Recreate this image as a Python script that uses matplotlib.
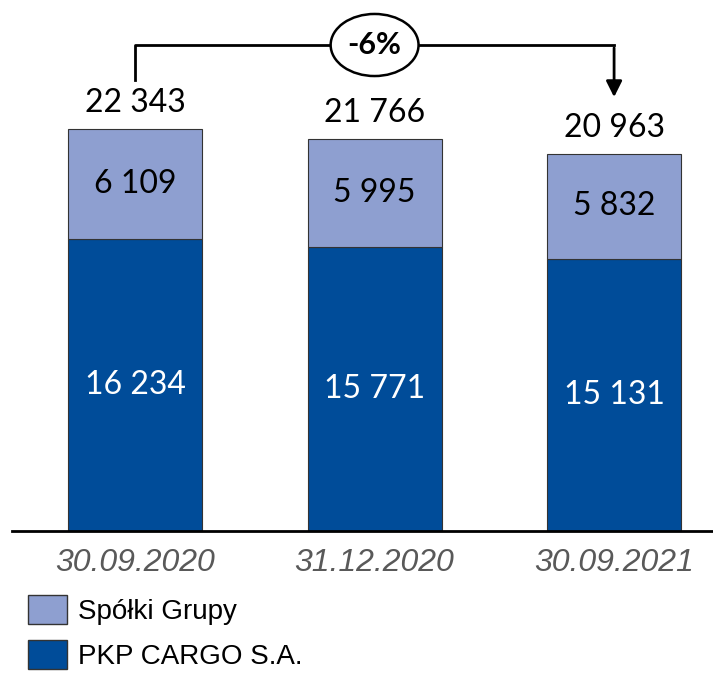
import matplotlib.pyplot as plt
from matplotlib.patches import Ellipse, Patch

# data
dates = ['30.09.2020', '31.12.2020', '30.09.2021']
pkp_cargo = [16234, 15771, 15131]
spolki = [6109, 5995, 5832]
totals = [22343, 21766, 20963]
change_label = '-6%'

c_light = '#8E9FD0'
c_dark = '#004C99'

def fmt(v):
    return f'{v:,}'.replace(',', ' ')

fig = plt.figure(figsize=(7.13, 6.74), dpi=100)
ax = fig.add_axes([12 / 713, 143 / 674, 1 - 12 / 713, 1 - 143 / 674])

x = list(range(len(dates)))
w = 0.56
ax.bar(x, pkp_cargo, width=w, color=c_dark, edgecolor='#333333', linewidth=0.8)
ax.bar(x, spolki, width=w, bottom=pkp_cargo, color=c_light, edgecolor='#333333', linewidth=0.8)

num_font = 'Lato'
for i in x:
    ax.text(i, pkp_cargo[i] / 2, fmt(pkp_cargo[i]), ha='center', va='center',
            color='white', fontsize=23, family=num_font)
    ax.text(i, pkp_cargo[i] + spolki[i] / 2, fmt(spolki[i]), ha='center', va='center',
            color='black', fontsize=23, family=num_font)
    ax.text(i, totals[i] + 1450, fmt(totals[i]), ha='center', va='center',
            color='black', fontsize=23, family=num_font)

ax.set_xlim(-0.514, 2.413)
ax.set_ylim(0, 29513)

# change bracket with arrow
y_top = 27012
ax.plot([x[0], x[0], x[-1]], [totals[0] + 2720, y_top, y_top], color='black', lw=2)
ax.annotate('', xy=(x[-1], totals[-1] + 3000), xytext=(x[-1], y_top),
            arrowprops=dict(arrowstyle='-|>', color='black', lw=2, mutation_scale=24))
mid = (x[0] + x[-1]) / 2
ax.add_patch(Ellipse((mid, y_top), 0.367, 3450, facecolor='white', edgecolor='black', lw=1.8, zorder=3))
ax.text(mid, y_top, change_label, ha='center', va='center', fontsize=22,
        fontweight='bold', family=num_font, zorder=4)

for s in ['top', 'left', 'right']:
    ax.spines[s].set_visible(False)
ax.spines['bottom'].set_linewidth(2)
ax.set_yticks([])
ax.set_xticks(x)
ax.set_xticklabels(dates, fontsize=23, style='italic', color='#595959',
                   family='Liberation Sans')
ax.tick_params(axis='x', length=0, pad=12)

handles = [Patch(facecolor=c_light, edgecolor='#333333', label='Spółki Grupy'),
           Patch(facecolor=c_dark, edgecolor='#333333', label='PKP CARGO S.A.')]
fig.legend(handles=handles, loc='upper left', bbox_to_anchor=(0.012, 98 / 674), frameon=False,
           prop={'family': 'Liberation Sans', 'size': 20},
           handlelength=1.4, handleheight=1.2, labelspacing=0.55, handletextpad=0.4,
           borderaxespad=0.3)

fig.savefig('out.png', dpi=100)
